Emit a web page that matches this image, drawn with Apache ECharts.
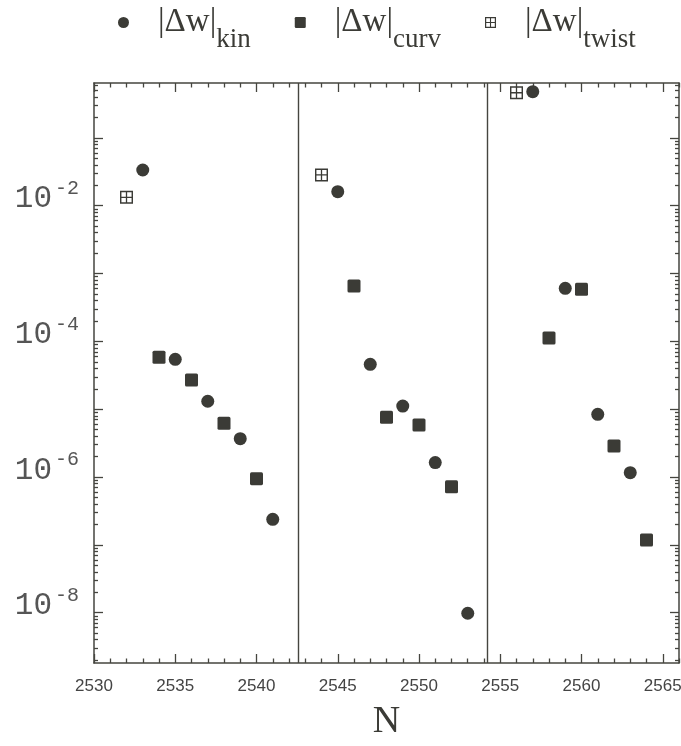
<!DOCTYPE html>
<html><head><meta charset="utf-8">
<script src="https://cdn.jsdelivr.net/npm/echarts@6/dist/echarts.min.js"></script>
<style>html,body{margin:0;padding:0;background:#fff}#c{width:681px;height:746px}</style>
</head><body><div id="c"></div><script>
// ---- data ----
const nKin = [2533, 2535, 2537, 2539, 2541, 2545, 2547, 2549, 2551, 2553, 2557, 2559, 2561, 2563];
const kin  = [0.0336, 5.44e-5, 1.31e-5, 3.67e-6, 2.38e-7, 0.0161, 4.59e-5, 1.11e-5, 1.63e-6, 9.8e-9, 0.480, 6.05e-4, 8.41e-6, 1.16e-6];
const nCurv = [2534, 2536, 2538, 2540, 2546, 2548, 2550, 2552, 2558, 2560, 2562, 2564];
const curv  = [5.82e-5, 2.69e-5, 6.19e-6, 9.45e-7, 6.55e-4, 7.59e-6, 5.85e-6, 7.19e-7, 1.12e-4, 5.85e-4, 2.86e-6, 1.18e-7];
const nTwist = [2532, 2544, 2556];
const twist  = [0.0133, 0.0284, 0.463];
const separators = [2542.6, 2554.2];
const seriesNames = ['kin', 'curv', 'twist'];
const xTickLabels = [2530, 2535, 2540, 2545, 2550, 2555, 2560, 2565];
const yLabelExponents = [-8, -6, -4, -2];
const xRange = [2530, 2566];
const yLogRange = [-8.742, -0.191];

// ---- ticks ----
const xMinor = [];
for (let v = xRange[0]; v <= xRange[1]; v++) if (xTickLabels.indexOf(v) < 0) xMinor.push(v);
const yMajor = [], yMinor = [];
for (let n = -9; n <= 0; n++) {
  if (n >= yLogRange[0] && n <= yLogRange[1]) yMajor.push(n);
  for (let k = 2; k <= 9; k++) {
    const v = n + Math.log10(k);
    if (v > yLogRange[0] && v < yLogRange[1]) yMinor.push(v);
  }
}

const C = '#3b3b36';
const AX = '#45453f';
const twistPath = 'path://M0,0L100,0L100,100L0,100Z M11,11L11,45L45,45L45,11Z M55,11L55,45L89,45L89,11Z M11,55L11,89L45,89L45,55Z M55,55L55,89L89,89L89,55Z';
const squarePath = 'path://M12,0L88,0Q100,0 100,12L100,88Q100,100 88,100L12,100Q0,100 0,88L0,12Q0,0 12,0Z';

function xAx(pos, ticks, len, showLine, labels) {
  return {
    type: 'value', position: pos, min: xRange[0], max: xRange[1],
    axisLine: { show: showLine, onZero: false, lineStyle: { color: AX, width: 1.5 } },
    axisTick: { show: true, inside: true, length: len, customValues: ticks, lineStyle: { color: AX, width: 1.3 } },
    axisLabel: labels ? { show: true, customValues: xTickLabels, margin: 15, fontFamily: 'Liberation Sans', fontSize: 17, color: '#444', formatter: v => String(v) } : { show: false },
    splitLine: { show: false }
  };
}
function yAx(pos, ticks, len, labels) {
  return {
    type: 'value', position: pos, min: yLogRange[0], max: yLogRange[1], offset: 0,
    axisLine: { show: pos === 'right' && len > 5, onZero: false, lineStyle: { color: AX, width: 1.5 } },
    axisTick: { show: true, inside: true, length: len, customValues: ticks, lineStyle: { color: AX, width: 1.3 } },
    axisLabel: labels ? {
      show: true, customValues: yLabelExponents, margin: 15, padding: [0, 0, 18, 0],
      formatter: v => '{b|10}{s|' + v + '}',
      rich: {
        b: { fontFamily: 'Liberation Mono', fontSize: 31, lineHeight: 36, verticalAlign: 'bottom', color: '#555' },
        s: { fontFamily: 'Liberation Mono', fontSize: 20, lineHeight: 20, verticalAlign: 'top', color: '#555', padding: [0, 0, 0, 3] }
      }
    } : { show: false },
    splitLine: { show: false }
  };
}

const chart = echarts.init(document.getElementById('c'), null, { renderer: 'canvas' });
chart.setOption({
  animation: false,
  backgroundColor: '#fff',
  grid: { left: 94, top: 83, width: 585, height: 580, containLabel: false, outerBoundsMode: 'none' },
  legend: {
    top: 6, left: 118, padding: 0, itemGap: 44, itemWidth: 11, itemHeight: 11,
    data: [
      { name: 'kin', icon: 'circle' },
      { name: 'curv', icon: squarePath },
      { name: 'twist', icon: twistPath }
    ],
    formatter: name => '{m||Δw|}{s|' + name + '}',
    textStyle: {
      rich: {
        m: { fontFamily: 'Liberation Serif', fontSize: 33, color: C, verticalAlign: 'middle', padding: [0, 0, 0, 24] },
        s: { fontFamily: 'Liberation Serif', fontSize: 27, color: C, lineHeight: 61, verticalAlign: 'bottom' }
      }
    }
  },
  xAxis: [
    Object.assign(xAx('bottom', xTickLabels, 9, true, true), {
      name: 'N', nameLocation: 'middle', nameGap: 40,
      nameTextStyle: { fontFamily: 'Liberation Serif', fontSize: 38, color: C }
    }),
    xAx('bottom', xMinor, 4.5, false, false),
    xAx('top', xTickLabels, 9, true, false),
    xAx('top', xMinor, 4.5, false, false)
  ],
  yAxis: [
    {
      type: 'log', logBase: 10, position: 'left', min: Math.pow(10, yLogRange[0]), max: Math.pow(10, yLogRange[1]),
      axisLine: { show: true, onZero: false, lineStyle: { color: AX, width: 1.5 } },
      axisTick: { show: false }, axisLabel: { show: false }, splitLine: { show: false }, minorTick: { show: false }
    },
    yAx('left', yMajor, 9, true),
    yAx('left', yMinor, 4, false),
    yAx('right', yMajor, 9, false),
    yAx('right', yMinor, 4, false)
  ],
  series: [
    {
      name: 'kin', type: 'scatter', xAxisIndex: 0, yAxisIndex: 0,
      symbol: 'circle', symbolSize: 13, itemStyle: { color: C, opacity: 1 },
      data: nKin.map((n, i) => [n, kin[i]]),
      markLine: {
        silent: true, symbol: ['none', 'none'], label: { show: false },
        lineStyle: { color: AX, width: 1.4, type: 'solid' },
        data: separators.map(v => ({ xAxis: v }))
      },
      z: 3
    },
    {
      name: 'curv', type: 'scatter', xAxisIndex: 0, yAxisIndex: 0,
      symbol: squarePath, symbolSize: 13, itemStyle: { color: C, opacity: 1 },
      data: nCurv.map((n, i) => [n, curv[i]]), z: 3
    },
    {
      name: 'twist', type: 'scatter', xAxisIndex: 0, yAxisIndex: 0,
      symbol: twistPath, symbolSize: 13, itemStyle: { color: C, opacity: 1 },
      data: nTwist.map((n, i) => [n, twist[i]]), z: 3
    }
  ]
});
</script></body></html>
